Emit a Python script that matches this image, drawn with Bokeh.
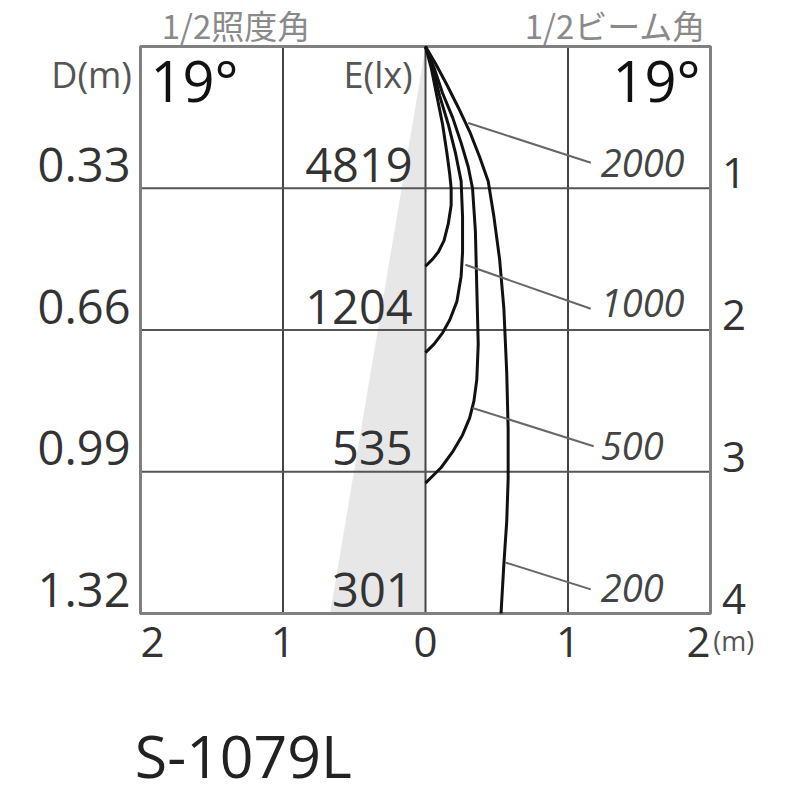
import math
from bokeh.plotting import figure
from bokeh.models import Range1d
from bokeh.core.properties import value
from bokeh.embed import file_html
from bokeh.resources import INLINE

# ---------------- data ----------------
distances = [1, 2, 3, 4]                       # m (right scale)
diameters = ["0.33", "0.66", "0.99", "1.32"]   # D(m)
center_lux = ["4819", "1204", "535", "301"]    # E(lx)
half_illum_angle = 19                          # 1/2照度角 (deg)
half_beam_angle = 19                           # 1/2ビーム角 (deg)
x_ticks = [-2, -1, 0, 1, 2]
x_tick_labels = ["2", "1", "0", "1", "2"]
model_name = "S-1079L"

iso_levels = ["2000", "1000", "500", "200"]
c2000_x = [0, 0.04, 0.08, 0.12, 0.15, 0.17, 0.18, 0.18, 0.16, 0.13, 0.09, 0.05, 0]
c2000_y = [0, 0.15, 0.35, 0.55, 0.75, 0.90, 1.00, 1.12, 1.25, 1.37, 1.45, 1.50, 1.55]
c1000_x = [0, 0.05, 0.10, 0.16, 0.21, 0.25, 0.26, 0.26, 0.25, 0.22, 0.17, 0.12, 0.06, 0]
c1000_y = [0, 0.15, 0.35, 0.55, 0.75, 0.95, 1.20, 1.45, 1.62, 1.80, 1.93, 2.02, 2.10, 2.16]
c500_x = [0, 0.06, 0.12, 0.19, 0.25, 0.30, 0.33, 0.35, 0.36, 0.37, 0.36, 0.34, 0.31, 0.26, 0.19, 0.11, 0.05, 0]
c500_y = [0, 0.15, 0.33, 0.50, 0.68, 0.85, 1.00, 1.30, 1.70, 2.10, 2.35, 2.50, 2.62, 2.74, 2.86, 2.97, 3.03, 3.08]
c200_x = [0, 0.07, 0.15, 0.23, 0.31, 0.38, 0.44, 0.48, 0.52, 0.55, 0.57, 0.58, 0.58, 0.57, 0.55, 0.53]
c200_y = [0, 0.12, 0.27, 0.43, 0.60, 0.78, 0.95, 1.20, 1.50, 1.85, 2.30, 2.70, 3.05, 3.35, 3.65, 4.00]

# ---------------- layout ----------------
W, H = 790, 800
X0_PX, SX = 425.0, 142.5     # pixel of x=0, pixels per metre
Y0_PX, SY = 46.0, 141.75     # pixel of y=0, pixels per metre

leader_x0 = [0.30, 0.28, 0.33, 0.56]
leader_y0 = [0.54, 1.54, 2.55, 3.64]
leader_x1 = [1.16, 1.16, 1.18, 1.16]
leader_y1 = [0.82, 1.85, 2.82, 3.83]
iso_label_x = [1.23, 1.23, 1.23, 1.23]
iso_label_y = [0.825, 1.81, 2.815, 3.82]

DARK = "#333333"
GRAYTXT = "#8a8a8a"

p = figure(width=W, height=H,
           x_range=Range1d(-X0_PX / SX, (W - X0_PX) / SX),
           y_range=Range1d((H - Y0_PX) / SY, -Y0_PX / SY),
           output_backend="svg", toolbar_location=None, min_border=0,
           background_fill_color="white", border_fill_color="white")
p.outline_line_color = None
p.axis.visible = False
p.grid.visible = False

xmin, xmax = x_ticks[0], x_ticks[-1]
dmax = distances[-1]

# half-illuminance cone (left side)
half = math.tan(math.radians(half_illum_angle / 2.0))
p.patch([0, -half * dmax, 0], [0, dmax, dmax], fill_color="#e7e7e7", line_color=None)

# grid lines
inner_x = x_ticks[1:-1]
p.segment(inner_x, [0] * len(inner_x), inner_x, [dmax] * len(inner_x),
          line_color="#444444", line_width=2)
inner_y = distances[:-1]
p.segment([xmin] * len(inner_y), inner_y, [xmax] * len(inner_y), inner_y,
          line_color="#555555", line_width=2)
# frame
p.quad(left=xmin, right=xmax, top=0, bottom=dmax, fill_color=None,
       line_color="#808080", line_width=3)

# isolux curves
for cx, cy in [(c2000_x, c2000_y), (c1000_x, c1000_y), (c500_x, c500_y), (c200_x, c200_y)]:
    p.line(cx, cy, line_color="#111111", line_width=3, line_join="round")

# leader lines
p.segment(leader_x0, leader_y0, leader_x1, leader_y1, line_color="#666666", line_width=2)


def txt(x, y, text, size, color=DARK, align="left", baseline="middle",
        font="Open Sans", style="normal"):
    p.text(x=x, y=y, text=text, text_font=value(font), text_font_size=value(size),
           text_color=color, text_align=align, text_baseline=baseline,
           text_font_style=style)


# iso labels
txt(iso_label_x, iso_label_y, iso_levels, "38px", "#444444", style="italic")
# D labels (left)
txt([-2.07] * 4, [d - 0.165 for d in distances], diameters, "47px", DARK, align="right")
# E labels
txt([-0.09] * 4, [d - 0.165 for d in distances], center_lux, "47px", DARK, align="right")
# distance labels (right)
txt([2.08] * 4, [d - 0.105 for d in distances], [str(d) for d in distances], "42px", DARK)
# bottom tick labels (outer ones nudged inside, as in the original)
tick_lx = [t + (0.085 if t == xmin else -0.085 if t == xmax else 0) for t in x_ticks]
txt(tick_lx, [dmax + 0.20] * len(x_ticks), x_tick_labels, "42px", DARK, align="center")
txt([xmax + 0.02], [dmax + 0.19], ["(m)"], "27px", "#555555")

# headers
txt([-1.33], [-0.155], ["1/2照度角"], "33px", GRAYTXT, align="center", font="Noto Sans CJK JP")
txt([1.97], [-0.155], ["1/2ビーム角"], "33px", GRAYTXT, align="right", font="Noto Sans CJK JP")
txt([-2.06], [0.20], ["D(m)"], "36px", "#555555", align="right")
txt([-0.09], [0.20], ["E(lx)"], "36px", "#555555", align="right")
txt([-1.93], [0.235], [f"{half_illum_angle}°"], "56px", "#111111")
txt([1.93], [0.235], [f"{half_beam_angle}°"], "56px", "#111111", align="right")
txt([-2.04], [4.995], [model_name], "59px", "#222222")

open("out.html", "w").write(file_html(p, INLINE))
